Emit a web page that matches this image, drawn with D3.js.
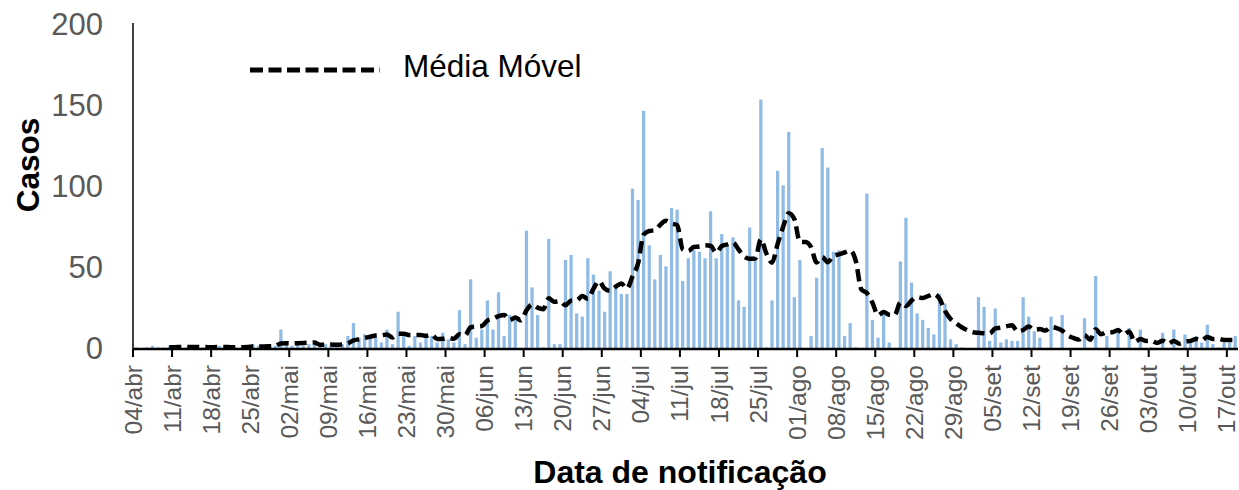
<!DOCTYPE html>
<html>
<head>
<meta charset="utf-8">
<script src="https://cdn.jsdelivr.net/npm/d3@7"></script>
<style>
  body { margin: 0; background: #fff; }
  text { font-family: "Liberation Sans", Arial, sans-serif; }
</style>
</head>
<body>
<div id="chart"></div>
<script>
// daily cases, one value per day starting 04/abr
var startDate = new Date(2020, 3, 4);
var casos = [
  1,0,1,2,1,1,2,1,1,1,2,1,1,1,1,2,1,1,1,1,2,
  3,2,1,2,2,12,3,2,3,2,3,3,2,3,3,2,3,8,16,7,
  9,8,7,4,12,3,23,9,2,8,4,8,8,4,10,6,4,24,3,43,
  7,12,30,12,35,8,21,18,0,73,38,21,1,68,3,3,55,58,22,20,
  56,46,36,23,48,40,34,34,99,92,147,64,43,58,51,87,86,42,56,61,
  60,56,85,56,71,63,69,30,26,75,57,154,1,30,110,101,134,32,55,0,
  8,44,124,112,60,61,8,16,1,0,96,18,7,22,4,0,54,81,41,22,
  18,13,9,34,28,6,3,1,0,0,32,26,5,25,4,6,5,5,32,20,
  11,7,0,20,0,21,0,0,0,19,0,45,0,8,0,10,0,13,0,12,
  0,1,0,10,0,12,0,9,4,8,4,15,3,1,4,4,8
];

var xTicks = ["04/abr","11/abr","18/abr","25/abr","02/mai","09/mai","16/mai","23/mai",
  "30/mai","06/jun","13/jun","20/jun","27/jun","04/jul","11/jul","18/jul","25/jul",
  "01/ago","08/ago","15/ago","22/ago","29/ago","05/set","12/set","19/set","26/set",
  "03/out","10/out","17/out"];
var yTicks = [0, 50, 100, 150, 200];

var meses = ["jan","fev","mar","abr","mai","jun","jul","ago","set","out","nov","dez"];
var fmt = function(d) { return d3.timeFormat("%d")(d) + "/" + meses[d.getMonth()]; };

var dias = d3.timeDay.range(startDate, d3.timeDay.offset(startDate, casos.length));
var data = dias.map(function(d, i) { return {dia: fmt(d), casos: casos[i]}; });

// 7 day trailing moving average of the bars ("Média Móvel")
var media = [];
data.forEach(function(d, i) {
  if (i >= 6) media.push({dia: d.dia, v: d3.mean(casos.slice(i - 6, i + 1))});
});

var width = 1239, height = 490;
var plotLeft = 133, plotRight = 1238, plotBottom = 349, plotTop = 25;

var svg = d3.select("#chart")
  .append("svg")
    .attr("width", width)
    .attr("height", height);

var x = d3.scaleBand()
    .domain(data.map(function(d) { return d.dia; }))
    .range([plotLeft, plotRight])
    .paddingInner(0.42)
    .paddingOuter(0.21);

var y = d3.scaleLinear()
    .domain([0, 200])
    .range([plotBottom, plotTop]);

// bars
svg.append("g")
  .selectAll("rect")
  .data(data)
  .enter()
  .append("rect")
    .attr("x", function(d) { return x(d.dia); })
    .attr("y", function(d) { return y(d.casos); })
    .attr("width", x.bandwidth())
    .attr("height", function(d) { return plotBottom - y(d.casos); })
    .attr("fill", "#8fbbe5");

// moving average line
var line = d3.line()
    .x(function(d) { return x(d.dia) + x.bandwidth() / 2; })
    .y(function(d) { return y(d.v); })
    .curve(d3.curveMonotoneX);

svg.append("path")
    .datum(media)
    .attr("d", line)
    .attr("fill", "none")
    .attr("stroke", "#000")
    .attr("stroke-width", 4.5)
    .attr("stroke-dasharray", "12,6");

// y axis
var yAxis = svg.append("g")
    .attr("transform", "translate(" + plotLeft + ",0)")
    .call(d3.axisLeft(y).tickValues(yTicks).tickSize(0).tickPadding(30));
yAxis.select(".domain")
    .attr("d", "M0," + plotBottom + "V" + (plotTop - 2))
    .attr("stroke", "#000")
    .attr("stroke-width", 1.5);
yAxis.selectAll("text")
    .attr("fill", "#595959")
    .style("font-size", "31px")
    .style("font-family", "'Liberation Sans', Arial, sans-serif");

// x axis, a tick every 7 days on the left edge of the day
var xAxis = svg.append("g")
    .attr("transform", "translate(0," + plotBottom + ")")
    .call(d3.axisBottom(x)
      .tickValues(xTicks)
      .tickSize(8)
      .tickPadding(0)
      .tickSizeOuter(0));
xAxis.select(".domain")
    .attr("stroke", "#000")
    .attr("stroke-width", 2.5)
    .attr("d", "M" + plotLeft + ",0H" + plotRight);
xAxis.selectAll(".tick")
    .attr("transform", function(d) { return "translate(" + (x(d) - x.step() * 0.21) + ",0)"; });
xAxis.selectAll(".tick line")
    .attr("stroke", "#000")
    .attr("stroke-width", 2);
xAxis.selectAll(".tick text")
    .attr("fill", "#595959")
    .attr("transform", "rotate(-90)")
    .attr("text-anchor", "end")
    .attr("x", -16)
    .attr("y", 0)
    .attr("dy", "0.35em")
    .style("font-size", "24.5px")
    .style("font-family", "'Liberation Sans', Arial, sans-serif");

// axis titles
svg.append("text")
    .attr("transform", "translate(39,165) rotate(-90)")
    .attr("text-anchor", "middle")
    .style("font-size", "31.5px")
    .style("font-weight", "bold")
    .text("Casos");

svg.append("text")
    .attr("x", 680)
    .attr("y", 483)
    .attr("text-anchor", "middle")
    .style("font-size", "32px")
    .style("font-weight", "bold")
    .text("Data de notificação");

// legend
svg.append("line")
    .attr("x1", 250).attr("x2", 380)
    .attr("y1", 70).attr("y2", 70)
    .attr("stroke", "#000")
    .attr("stroke-width", 5)
    .attr("stroke-dasharray", "13,5.5");

svg.append("text")
    .attr("x", 403)
    .attr("y", 77)
    .style("font-size", "31.5px")
    .text("Média Móvel");
</script>
</body>
</html>
